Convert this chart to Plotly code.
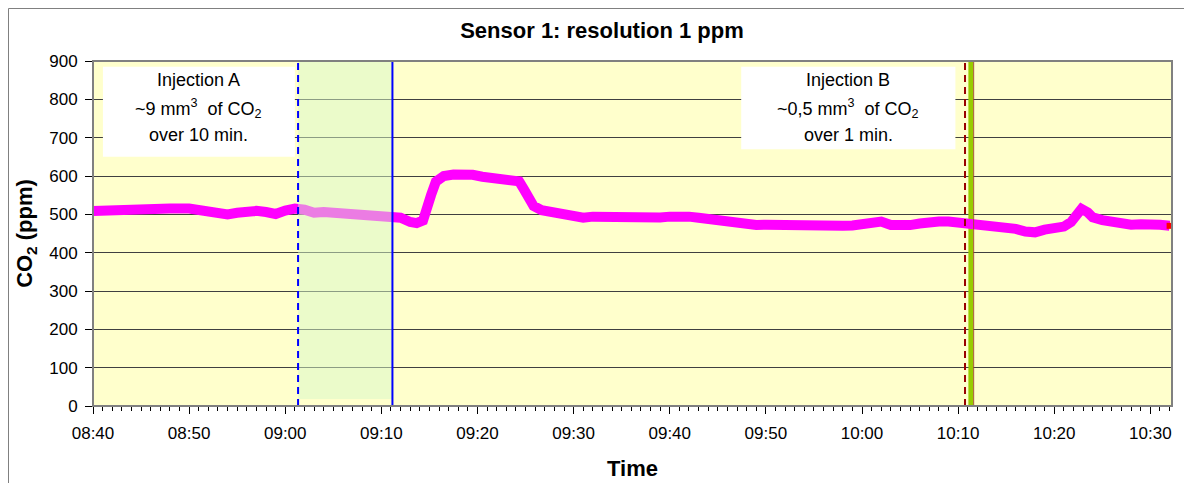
import plotly.graph_objects as go

# ---- data ----
times = ["08:40", "08:42", "08:43", "08:45", "08:46", "08:48", "08:50", "08:51", "08:52", "08:53",
         "08:54", "08:55", "08:56", "08:57", "08:58", "08:59", "09:00", "09:01", "09:02", "09:03",
         "09:04", "09:05", "09:06", "09:07", "09:08", "09:09", "09:10", "09:11", "09:12", "09:13",
         "09:13:40", "09:14:20", "09:14:50", "09:15:10", "09:15:40", "09:16:30", "09:17:30", "09:18:30",
         "09:19:30", "09:20:30", "09:21:30", "09:22:30", "09:23:30", "09:24:20", "09:24:50", "09:25:20",
         "09:25:50", "09:26:40", "09:28", "09:29", "09:30", "09:31", "09:32", "09:33", "09:34", "09:35",
         "09:36", "09:37", "09:38", "09:39", "09:40", "09:41", "09:42", "09:43", "09:44", "09:45",
         "09:46", "09:47", "09:48", "09:49", "09:50", "09:51", "09:52", "09:53", "09:54", "09:55",
         "09:56", "09:57", "09:58", "09:59", "10:00", "10:01", "10:02", "10:03", "10:04", "10:05",
         "10:06", "10:07", "10:08", "10:09", "10:10", "10:11", "10:12", "10:13", "10:14", "10:15",
         "10:16", "10:17", "10:18", "10:19", "10:20", "10:21", "10:21:45", "10:22:20", "10:22:50",
         "10:23:30", "10:24", "10:25", "10:26", "10:27", "10:28", "10:29", "10:30", "10:31", "10:32"]
co2_ppm = [509, 512, 514, 515, 516, 515, 515, 510, 506, 501,
           500, 504, 508, 509, 506, 501, 510, 515, 512, 504,
           506, 504, 500, 497, 493, 491, 490, 490, 491, 480,
           477, 484, 515, 550, 585, 600, 604, 606,
           603, 598, 595, 592, 589, 586, 565, 540,
           522, 511, 503, 497, 492, 491, 494, 493, 492, 495,
           496, 495, 494, 492, 494, 497, 494, 491, 487, 484,
           482, 479, 475, 472, 473, 472, 472, 470, 469, 468,
           469, 470, 470, 471, 474, 478, 481, 472, 470, 472,
           476, 480, 481, 481, 479, 475, 472, 473, 472, 470,
           462, 455, 453, 460, 464, 468, 480, 503, 514,
           505, 492, 485, 480, 473, 473, 474, 475, 473, 470]

DAY = "2000-01-01 "
def t(s):
    if s.count(":") == 1:
        s = s + ":00"
    return DAY + s

x_vals = [t(s) for s in times]

inj_a_start = "09:01:20"
inj_a_end = "09:11:09"
inj_b_dash = "10:10:43"
inj_b_bar = ("10:11:04", "10:11:33")
inj_b_line = "10:11:37"
x_range = ("08:40:00", "10:32:15")

box_a = ("08:41:02", "09:01:00", 650, 885)
box_b = ("09:47:26", "10:09:43", 670, 885)
text_a = ["Injection A", "~9 mm<sup>3</sup>  of CO<sub>2</sub>", "over 10 min."]
text_b = ["Injection B", "~0,5 mm<sup>3</sup>  of CO<sub>2</sub>", "over 1 min."]
text_y = [850, 777, 707]
text_a_x = "08:51:01"
text_b_x = "09:58:34"

FONT = "Liberation Sans, Arial, sans-serif"

fig = go.Figure()
fig.add_trace(go.Scatter(x=x_vals, y=co2_ppm, mode="lines",
                         line=dict(color="#ff00ff", width=10), hoverinfo="skip"))
fig.add_trace(go.Scatter(x=[x_vals[-1]], y=[co2_ppm[-1]], mode="markers",
                         marker=dict(color="#ff0000", size=6, symbol="square"), hoverinfo="skip"))

shapes = []
shapes.append(dict(type="rect", xref="x", yref="y", x0=t(inj_b_bar[0]), x1=t(inj_b_bar[1]), y0=0, y1=900,
                   fillcolor="#99cc00", line=dict(width=0), layer="between"))
shapes.append(dict(type="rect", xref="x", yref="y", x0=t(inj_a_start), x1=t(inj_a_end), y0=18, y1=900,
                   fillcolor="#d8f8c8", opacity=0.5, line=dict(width=0), layer="above"))
for b in (box_a, box_b):
    shapes.append(dict(type="rect", xref="x", yref="y", x0=t(b[0]), x1=t(b[1]), y0=b[2], y1=b[3],
                       fillcolor="white", line=dict(width=0), layer="above"))
shapes.append(dict(type="line", xref="x", yref="y", x0=t(inj_a_start), x1=t(inj_a_start), y0=0, y1=900,
                   line=dict(color="#0000ff", width=2, dash="7px,5px"), layer="above"))
shapes.append(dict(type="line", xref="x", yref="y", x0=t(inj_a_end), x1=t(inj_a_end), y0=0, y1=900,
                   line=dict(color="#0000ff", width=2), layer="above"))
shapes.append(dict(type="line", xref="x", yref="y", x0=t(inj_b_dash), x1=t(inj_b_dash), y0=0, y1=900,
                   line=dict(color="#990000", width=2, dash="7px,5px"), layer="above"))
shapes.append(dict(type="line", xref="x", yref="y", x0=t(inj_b_line), x1=t(inj_b_line), y0=0, y1=900,
                   line=dict(color="#a0522d", width=1), layer="above"))
shapes.append(dict(type="rect", xref="paper", yref="paper", x0=0, x1=1, y0=0, y1=1,
                   line=dict(color="#808080", width=2), layer="above"))
# outer chart frame (page has an 8px body margin; figure starts at page x=8, y=8)
PW, PH = 1079.0, 345.0
shapes.append(dict(type="rect", xref="paper", yref="paper",
                   x0=(0.5 - 85) / PW, x1=(1220 - 93) / PW,
                   y0=-0.3, y1=(406 - 8.5) / PH,
                   line=dict(color="#808080", width=1), layer="above"))

annotations = []
for tx, lines in ((text_a_x, text_a), (text_b_x, text_b)):
    for ln, yy in zip(lines, text_y):
        annotations.append(dict(x=t(tx), y=yy, xref="x", yref="y", text=ln, showarrow=False,
                                font=dict(family=FONT, size=18, color="black"),
                                xanchor="center", yanchor="middle"))

fig.update_layout(
    width=1192, height=483,
    margin=dict(l=85, r=28, t=53, b=85),
    paper_bgcolor="white",
    plot_bgcolor="#ffffcc",
    showlegend=False,
    font=dict(family=FONT, color="black"),
    title=dict(text="<b>Sensor 1: resolution 1 ppm</b>", x=594 / 1192, xref="container", xanchor="center",
               y=1 - 22 / 483, yref="container", yanchor="middle",
               font=dict(family=FONT, size=22, color="black")),
    shapes=shapes,
    annotations=annotations,
)
fig.update_xaxes(
    type="date", range=[t(x_range[0]), t(x_range[1])],
    tickformat="%H:%M", dtick=600000, tick0=t("08:40"),
    ticks="outside", ticklen=7, tickcolor="black", tickwidth=1, ticklabelstandoff=5,
    minor=dict(dtick=60000, ticks="outside", ticklen=4, tickcolor="black", showgrid=False),
    showline=True, linecolor="black", linewidth=1,
    showgrid=False, zeroline=False,
    tickfont=dict(family=FONT, size=17, color="black"),
    title=dict(text="<b>Time</b>", font=dict(family=FONT, size=22, color="black"), standoff=18),
)
fig.update_yaxes(
    range=[0, 900], dtick=100, tick0=0,
    ticks="outside", ticklen=7, tickcolor="black", tickwidth=1, ticklabelstandoff=4,
    showline=True, linecolor="black", linewidth=1,
    showgrid=True, gridcolor="#404040", gridwidth=1, zeroline=False,
    tickfont=dict(family=FONT, size=17, color="black"),
    title=dict(text="<b>CO<sub>2</sub> (ppm)</b>", font=dict(family=FONT, size=22, color="black"), standoff=10),
)

fig.write_html("out.html")
